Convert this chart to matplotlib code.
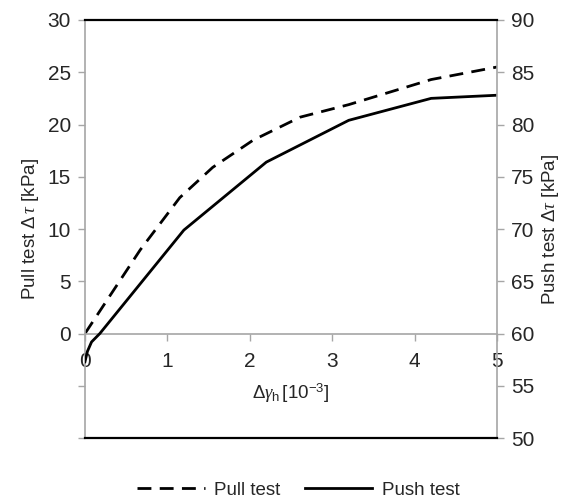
import matplotlib.pyplot as plt

# pull test (left axis)
pull_x = [0, 0.67, 1.15, 1.55, 2.04, 2.61, 3.2, 4.2, 5]
pull_y = [0, 8.0, 13.0, 15.9, 18.5, 20.7, 21.9, 24.3, 25.5]

# push test (right axis)
push_x = [0, 0.03, 0.08, 0.18, 1.2, 2.2, 3.2, 4.2, 5]
push_y = [57.3, 58.3, 59.2, 60.0, 69.9, 76.4, 80.4, 82.5, 82.8]

x_ticks = [0, 1, 2, 3, 4, 5]
left_ticks = [-10, -5, 0, 5, 10, 15, 20, 25, 30]
right_ticks = [50, 55, 60, 65, 70, 75, 80, 85, 90]

plt.rcParams['font.family'] = ['Liberation Sans', 'DejaVu Sans']
plt.rcParams['mathtext.fontset'] = 'custom'
plt.rcParams['mathtext.rm'] = 'Liberation Sans'
plt.rcParams['mathtext.it'] = 'Liberation Serif:italic'

grey = '#a6a6a6'
txt = '#262626'

fig = plt.figure(figsize=(5.74, 4.99), dpi=100)
ax = fig.add_axes([0.148, 0.122, 0.718, 0.838])
ax2 = ax.twinx()

l1, = ax.plot(pull_x, pull_y, color='black', lw=2.0, ls=(0, (5, 3)), label='Pull test')
l2, = ax2.plot(push_x, push_y, color='black', lw=2.0, label='Push test')

ax.set_xlim(0, 5)
ax.set_ylim(-10, 30)
ax2.set_ylim(50, 90)

ax.set_xticks(x_ticks)
ax.set_xticklabels([str(t) for t in x_ticks])
ax.set_yticks(left_ticks)
ax.set_yticklabels([str(t) if t >= 0 else '' for t in left_ticks])
ax2.set_yticks(right_ticks)

# x axis sits at pull = 0
ax.spines['bottom'].set_position(('data', 0))
ax.spines['bottom'].set_color(grey)
ax.spines['left'].set_color(grey)
ax.spines['top'].set_visible(False)
ax.spines['right'].set_visible(False)
ax2.spines['left'].set_visible(False)
ax2.spines['right'].set_color(grey)
ax2.spines['top'].set_color('black')
ax2.spines['top'].set_linewidth(1.6)
ax2.spines['bottom'].set_color('black')
ax2.spines['bottom'].set_linewidth(1.6)
for s in ['left', 'bottom']:
    ax.spines[s].set_linewidth(1.2)
ax2.spines['right'].set_linewidth(1.2)

ax.tick_params(axis='both', colors=grey, labelcolor=txt, length=5, width=1, labelsize=15)
ax.tick_params(axis='x', pad=8)
ax.tick_params(axis='y', pad=5)
ax2.tick_params(axis='y', colors=grey, labelcolor=txt, length=5, width=1, labelsize=15, pad=5)

ax.set_ylabel(r'Pull test $\Delta\,\mathit{\tau}$ [kPa]', color=txt, fontsize=13.5, labelpad=5)
ax2.set_ylabel(r'Push test $\Delta\tau$ [kPa]', color=txt, fontsize=13.5, labelpad=4)
ax.set_xlabel(r'$\mathit{\Delta\gamma}_{\mathrm{h}}\,$[10$^{-3}$]', color=txt, fontsize=13.5)
ax.xaxis.set_label_coords(0.5, 0.135)

fig.legend(handles=[l1, l2], loc='center', bbox_to_anchor=(0.52, 0.018),
           ncol=2, frameon=False, handlelength=3.6, handletextpad=0.5,
           columnspacing=1.3, labelcolor=txt, fontsize=13.5)

fig.savefig('out.png', dpi=100)
